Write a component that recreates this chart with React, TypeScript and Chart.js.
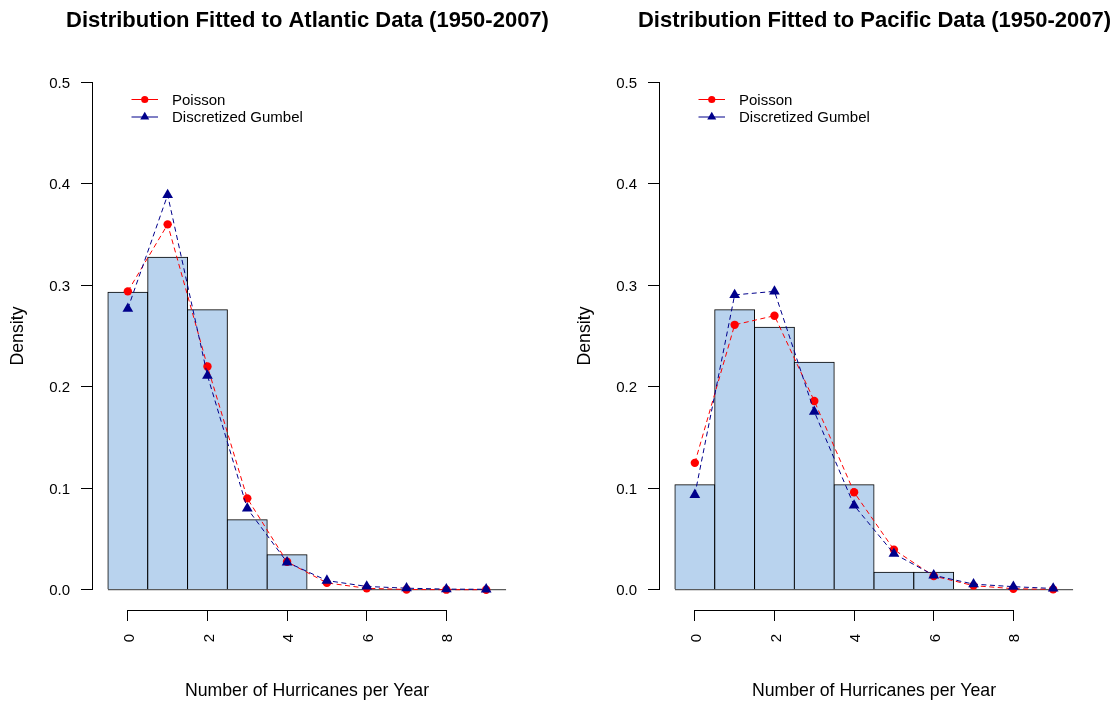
import React, { useEffect, useRef } from 'react';
import { Chart, registerables } from 'chart.js';

Chart.register(...registerables);

const FONT = '"Liberation Sans", Arial, Helvetica, sans-serif';
Chart.defaults.font.family = FONT;
Chart.defaults.color = '#000';

// ---- data ----
const counts = [0, 1, 2, 3, 4, 5, 6, 7, 8, 9];
const binEdges = [-0.5, 9.5];
const xTicks = [0, 2, 4, 6, 8];
const yTicks = [0, 0.1, 0.2, 0.3, 0.4, 0.5];

const atlanticHist = [0.2931, 0.3276, 0.2759, 0.069, 0.0345, 0, 0, 0, 0, 0];
const atlanticPoisson = [0.294, 0.36, 0.22, 0.09, 0.0275, 0.0067, 0.0014, 0.0002, 0.00004, 0.00001];
const atlanticGumbel = [0.277, 0.389, 0.211, 0.08, 0.027, 0.009, 0.0032, 0.0015, 0.0006, 0.0004];

const pacificHist = [0.1034, 0.2759, 0.2586, 0.2241, 0.1034, 0.0172, 0.0172, 0, 0, 0];
const pacificPoisson = [0.125, 0.261, 0.27, 0.186, 0.096, 0.0395, 0.0135, 0.004, 0.001, 0.0003];
const pacificGumbel = [0.0935, 0.2905, 0.294, 0.1755, 0.083, 0.0355, 0.0142, 0.0055, 0.003, 0.0012];

const seriesNames = ['Poisson', 'Discretized Gumbel'];
const titles = [
  'Distribution Fitted to Atlantic Data (1950-2007)',
  'Distribution Fitted to Pacific Data (1950-2007)',
];
const xTitle = 'Number of Hurricanes per Year';
const yTitle = 'Density';

const POISSON_COLOR = '#FF0000';
const GUMBEL_COLOR = '#00008B';
const BAR_COLOR = '#B9D3EE';

const CANVAS_W = 615;
const CANVAS_H = 702;

const alignPx = (p: number) => Math.round(p - 0.5) + 0.5;

const rAxesPlugin = {
  id: 'rAxes',
  afterDraw(chart: any) {
    const { ctx, chartArea, scales } = chart;
    const xs = scales.x;
    const ys = scales.y;
    ctx.save();
    ctx.strokeStyle = '#000';
    ctx.lineWidth = 1;
    ctx.lineCap = 'square';
    ctx.beginPath();
    const bx = alignPx(chartArea.left);
    ctx.moveTo(bx, alignPx(ys.getPixelForValue(yTicks[0])));
    ctx.lineTo(bx, alignPx(ys.getPixelForValue(yTicks[yTicks.length - 1])));
    const by = alignPx(chartArea.bottom);
    ctx.moveTo(alignPx(xs.getPixelForValue(xTicks[0])), by);
    ctx.lineTo(alignPx(xs.getPixelForValue(xTicks[xTicks.length - 1])), by);
    ctx.stroke();
    ctx.restore();
  },
};

function drawMarker(ctx: CanvasRenderingContext2D, style: string, x: number, y: number, r: number) {
  ctx.beginPath();
  if (style === 'triangle') {
    let rad = 0;
    ctx.moveTo(x + Math.sin(rad) * r, y - Math.cos(rad) * r);
    rad += (2 * Math.PI) / 3;
    ctx.lineTo(x + Math.sin(rad) * r, y - Math.cos(rad) * r);
    rad += (2 * Math.PI) / 3;
    ctx.lineTo(x + Math.sin(rad) * r, y - Math.cos(rad) * r);
    ctx.closePath();
  } else {
    ctx.arc(x, y, r, 0, Math.PI * 2);
  }
  ctx.fill();
}

const rLegendPlugin = {
  id: 'rLegend',
  afterDraw(chart: any) {
    const { ctx, chartArea } = chart;
    const items = chart.data.datasets
      .filter((d: any) => d.inLegend)
      .sort((a: any, b: any) => seriesNames.indexOf(a.label) - seriesNames.indexOf(b.label));
    ctx.save();
    ctx.font = `15px ${FONT}`;
    ctx.textBaseline = 'middle';
    ctx.textAlign = 'left';
    items.forEach((d: any, i: number) => {
      const y = chartArea.top + 37.5 + i * 17.5;
      const x0 = chartArea.left + 39.5;
      const x1 = chartArea.left + 66;
      ctx.strokeStyle = d.borderColor;
      ctx.lineWidth = 1;
      ctx.setLineDash([]);
      ctx.beginPath();
      ctx.moveTo(x0, y);
      ctx.lineTo(x1, y);
      ctx.stroke();
      ctx.fillStyle = d.pointBackgroundColor;
      drawMarker(ctx, d.pointStyle, (x0 + x1) / 2, y, d.pointStyle === 'triangle' ? 5.2 : 3.6);
      ctx.fillStyle = '#000';
      ctx.fillText(d.label, chartArea.left + 80, y + 1);
    });
    ctx.restore();
  },
};

function buildConfig(title: string, hist: number[], poisson: number[], gumbel: number[]): any {
  return {
    type: 'bar',
    data: {
      datasets: [
        {
          type: 'line',
          label: seriesNames[1],
          inLegend: true,
          data: counts.map((x, i) => ({ x, y: gumbel[i] })),
          borderColor: GUMBEL_COLOR,
          borderWidth: 1,
          borderDash: [5, 3.5],
          pointStyle: 'triangle',
          pointRadius: 6.2,
          pointBackgroundColor: GUMBEL_COLOR,
          pointBorderWidth: 0,
          tension: 0,
          order: 0,
        },
        {
          type: 'line',
          label: seriesNames[0],
          inLegend: true,
          data: counts.map((x, i) => ({ x, y: poisson[i] })),
          borderColor: POISSON_COLOR,
          borderWidth: 1,
          borderDash: [5, 3.5],
          pointStyle: 'circle',
          pointRadius: 4.2,
          pointBackgroundColor: POISSON_COLOR,
          pointBorderWidth: 0,
          tension: 0,
          order: 1,
        },
        {
          type: 'line',
          label: 'baseline',
          data: binEdges.map((x) => ({ x, y: 0 })),
          borderColor: '#333',
          borderWidth: 1,
          pointRadius: 0,
          order: 2,
        },
        {
          type: 'bar',
          label: 'Observed',
          data: counts.map((x, i) => ({ x, y: hist[i] })),
          backgroundColor: BAR_COLOR,
          borderColor: '#000',
          borderWidth: 1,
          inflateAmount: 0.5,
          barPercentage: 1,
          categoryPercentage: 1,
          order: 3,
        },
      ],
    },
    options: {
      responsive: false,
      maintainAspectRatio: false,
      animation: false,
      devicePixelRatio: 1,
      events: [],
      layout: { padding: 0 },
      plugins: {
        legend: { display: false },
        tooltip: { enabled: false },
        title: {
          display: true,
          text: title,
          color: '#000',
          font: { size: 22, weight: 'bold', family: FONT },
          padding: { top: 8, bottom: 27.6 },
        },
      },
      scales: {
        x: {
          type: 'linear',
          min: -0.9,
          max: 9.9,
          offset: false,
          grid: {
            display: true,
            offset: false,
            drawOnChartArea: false,
            drawTicks: true,
            tickLength: 11,
            color: '#000',
            lineWidth: 1,
          },
          border: { display: false },
          ticks: {
            autoSkip: false,
            minRotation: 90,
            maxRotation: 90,
            padding: 13,
            labelOffset: 2,
            color: '#000',
            font: { size: 15, family: FONT },
          },
          title: {
            display: true,
            text: xTitle,
            color: '#000',
            font: { size: 17.7, family: FONT },
            padding: { top: 0, bottom: 0 },
          },
          afterBuildTicks: (s: any) => {
            s.ticks = xTicks.map((v) => ({ value: v }));
          },
          afterFit: (s: any) => {
            s.height = 92;
          },
        },
        y: {
          type: 'linear',
          position: 'left',
          min: -0.02,
          max: 0.52,
          grid: {
            display: true,
            drawOnChartArea: false,
            drawTicks: true,
            tickLength: 11,
            color: '#000',
            lineWidth: 1,
          },
          border: { display: false },
          ticks: {
            autoSkip: false,
            padding: 11,
            labelOffset: 1.5,
            color: '#000',
            font: { size: 15, family: FONT },
            callback: (v: any) => Number(v).toFixed(1),
          },
          title: {
            display: true,
            text: yTitle,
            color: '#000',
            font: { size: 17.7, family: FONT },
            padding: { top: 7, bottom: 0 },
          },
          afterBuildTicks: (s: any) => {
            s.ticks = yTicks.map((v) => ({ value: v }));
          },
          afterFit: (s: any) => {
            s.width = 92;
          },
        },
        yPad: {
          type: 'linear',
          position: 'right',
          display: true,
          grid: { display: false, drawTicks: false },
          border: { display: false },
          ticks: { display: false },
          afterFit: (s: any) => {
            s.width = 93;
          },
        },
      },
    },
    plugins: [rAxesPlugin, rLegendPlugin],
  };
}

function Panel(props: { left: number; title: string; hist: number[]; poisson: number[]; gumbel: number[] }) {
  const ref = useRef<HTMLCanvasElement>(null);
  useEffect(() => {
    if (!ref.current) return;
    const chart = new Chart(ref.current, buildConfig(props.title, props.hist, props.poisson, props.gumbel));
    return () => chart.destroy();
  }, []);
  return (
    <canvas
      ref={ref}
      width={CANVAS_W}
      height={CANVAS_H}
      style={{ position: 'absolute', left: props.left, top: 0, width: CANVAS_W, height: CANVAS_H, display: 'block' }}
    />
  );
}

export default function App() {
  return (
    <div
      style={{
        position: 'fixed',
        left: 0,
        top: 0,
        width: 1117,
        height: 702,
        overflow: 'hidden',
        background: '#fff',
      }}
    >
      <Panel left={0} title={titles[0]} hist={atlanticHist} poisson={atlanticPoisson} gumbel={atlanticGumbel} />
      <Panel left={567} title={titles[1]} hist={pacificHist} poisson={pacificPoisson} gumbel={pacificGumbel} />
    </div>
  );
}
